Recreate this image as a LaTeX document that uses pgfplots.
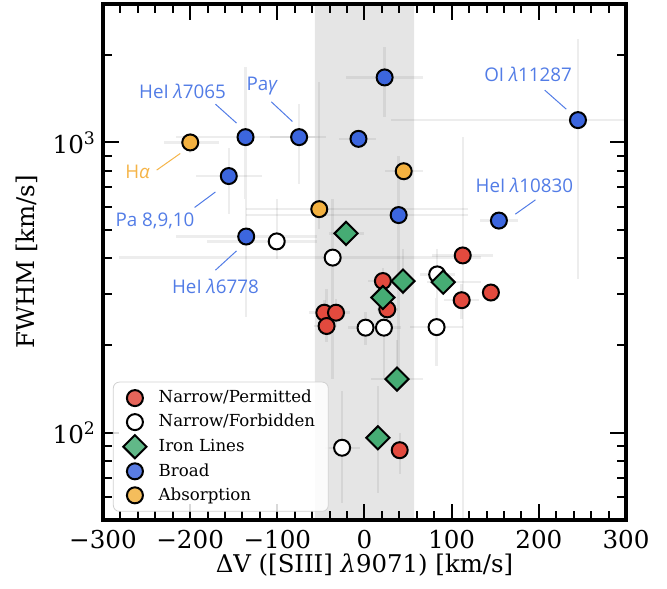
\documentclass[border=0pt]{standalone}
\usepackage{fontspec}
\setmainfont{DejaVu Serif}
\newfontfamily\annfont{Open Sans}
\usepackage{pgfplots}
\usepackage{pgfplotstable}
\pgfplotsset{compat=1.18}

\definecolor{cred}{RGB}{226,74,62}
\definecolor{cblue}{RGB}{60,102,222}
\definecolor{corange}{RGB}{243,177,64}
\definecolor{cgreen}{RGB}{70,172,116}
\definecolor{tblue}{RGB}{82,124,230}
\definecolor{torange}{RGB}{245,180,72}

% columns: dv fwhm, then errors (x minus, x plus, y minus, y plus)
\pgfplotstableread{
x y xm xp ym yp
-46.1 259 18 14 30 28
-32.7 259 14 16 25 30
-43.5 233 15 12 28 80
21.1 333 17 17 35 35
26.1 266 12 12 25 30
111.5 286 20 20 40 40
112.7 408 35 35 368 640
145.0 304 10 10 20 20
40.4 87 8 8 15 13
}\narrowperm

\pgfplotstableread{
x y xm xp ym yp
-100.7 456 80 46 60 182
-36.5 401 245 170 248 237
1.2 230 20 20 30 30
22.3 230 20 20 77 30
82.7 231 31 30 61 59
83.4 351 20 20 60 80
-25.7 88.7 20 20 31.7 50
}\narrowforb

\pgfplotstableread{
x y xm xp ym yp
-21.1 486 20 20 50 50
44.2 333 15 15 36 95
90.3 330 19 43 30 30
21.1 292 15 15 30 30
37.3 153 30 30 13 56
15.4 96 15 15 34 49
}\ironlines

\pgfplotstableread{
x y xm xp ym yp
-155.7 766 38 38 200 194
-136.5 1043 80 80 405 772
-75.0 1043 33 31 325 312
-6.9 1029 22 20 40 40
23.1 1675 44 44 456 450
244.9 1194 215 80 856 1071
39.2 562 175 80 412 336
154.2 538 22 22 30 30
-135.7 474 81 81 224 164
}\broad

\pgfplotstableread{
x y xm xp ym yp
-199.9 1000 30 33 80 80
-51.9 589 84 171 87 1021
45.0 796 22 22 60 60
}\absorp

\begin{document}
\begin{tikzpicture}
\begin{axis}[
  scale only axis, width=261.5pt, height=258pt,
  xmin=-300, xmax=300, ymode=log, ymin=50, ymax=3000,
  xtick={-300,-200,...,300},
  xticklabels={−300,−200,−100,0,100,200,300},
  minor xtick={-280,-260,...,280},
  ytick={100,1000}, yticklabels={10\textsuperscript{2},10\textsuperscript{3}},
  minor ytick={60,70,80,90,200,300,400,500,600,700,800,900,2000},
  tick align=inside, major tick length=8pt, minor tick length=4.5pt,
  every tick/.style={black, line width=1pt},
  axis line style={line width=2pt},
  tick label style={font=\fontsize{12.3}{13}\selectfont},
  xticklabel style={yshift=-1.5pt},
  every axis x label/.style={at={(axis description cs:0.5,0)}, anchor=base,
    yshift=-26.3pt, font=\fontsize{12.2}{13}\selectfont},
  every axis y label/.style={at={(axis description cs:0,0.5)}, rotate=90, anchor=base,
    yshift=34pt, font=\fontsize{12.2}{13}\selectfont},
  xlabel={ΔV ([SIII] \textit{λ}9071) [km/s]},
  ylabel={FWHM [km/s]},
  legend cell align=left,
  legend style={at={(0.019,0.016)}, anchor=south west,
    draw=black!18, rounded corners=3pt, fill=white, fill opacity=0.85, text opacity=1,
    font=\fontsize{8.3}{9.5}\selectfont, row sep=1pt, nodes={inner sep=1.6pt},
    inner xsep=5pt, inner ysep=2.5pt,
    /tikz/every odd column/.append style={column sep=4.5pt}},
  errstyle/.style={draw=none, mark=none, forget plot,
    error bars/.cd, x dir=both, x explicit, y dir=both, y explicit, error mark=none,
    error bar style={draw=black, line width=1.2pt, opacity=0.07}},
]
\addplot[fill=black, fill opacity=0.1, draw=none, forget plot]
  coordinates {(-57,50) (57,50) (57,3000) (-57,3000)} \closedcycle;

\addplot[only marks, mark=*, mark size=4pt, mark options={fill=cred, draw=black, line width=1pt}]
  table[x=x, y=y] {\narrowperm};
\addlegendentry{Narrow/Permitted}
\addplot[only marks, mark=*, mark size=4pt, mark options={fill=white, draw=black, line width=1pt}]
  table[x=x, y=y] {\narrowforb};
\addlegendentry{Narrow/Forbidden}
\addplot[only marks, mark=square*, mark size=4.1pt, mark options={rotate=45, fill=cgreen, draw=black, line width=1pt}]
  table[x=x, y=y] {\ironlines};
\addlegendentry{Iron Lines}
\addplot[only marks, mark=*, mark size=4pt, mark options={fill=cblue, draw=black, line width=1pt}]
  table[x=x, y=y] {\broad};
\addlegendentry{Broad}
\addplot[only marks, mark=*, mark size=4pt, mark options={fill=corange, draw=black, line width=1pt}]
  table[x=x, y=y] {\absorp};
\addlegendentry{Absorption}

\addplot[errstyle] table[x=x, y=y, x error minus=xm, x error plus=xp,
  y error minus=ym, y error plus=yp] {\narrowperm};
\addplot[errstyle] table[x=x, y=y, x error minus=xm, x error plus=xp,
  y error minus=ym, y error plus=yp] {\narrowforb};
\addplot[errstyle] table[x=x, y=y, x error minus=xm, x error plus=xp,
  y error minus=ym, y error plus=yp] {\ironlines};
\addplot[errstyle] table[x=x, y=y, x error minus=xm, x error plus=xp,
  y error minus=ym, y error plus=yp] {\broad};
\addplot[errstyle] table[x=x, y=y, x error minus=xm, x error plus=xp,
  y error minus=ym, y error plus=yp] {\absorp};

\begin{scope}[font=\annfont\fontsize{9.4}{10}\selectfont]
\node[text=tblue] at (axis cs:-208.8,1494) {HeI \textit{λ}7065};
\draw[tblue, line width=0.5pt] (axis cs:-171,1355) -- (axis cs:-146.8,1166);
\node[text=tblue] at (axis cs:-117.3,1567) {Pa\textit{γ}};
\draw[tblue, line width=0.5pt] (axis cs:-106.9,1380) -- (axis cs:-82.7,1181);
\node[text=torange] at (axis cs:-260.3,792) {H\textit{α}};
\draw[torange, line width=0.5pt] (axis cs:-238.4,803) -- (axis cs:-211.4,916);
\node[text=tblue] at (axis cs:-240.3,537) {Pa 8,9,10};
\draw[tblue, line width=0.5pt] (axis cs:-194.9,597) -- (axis cs:-171,675);
\node[text=tblue] at (axis cs:-171,319) {HeI \textit{λ}6778};
\draw[tblue, line width=0.5pt] (axis cs:-171,363) -- (axis cs:-146.8,423);
\node[text=tblue] at (axis cs:187.7,1711) {OI \textit{λ}11287};
\draw[tblue, line width=0.5pt] (axis cs:206.8,1514) -- (axis cs:231.5,1302);
\node[text=tblue] at (axis cs:183.4,709) {HeI \textit{λ}10830};
\draw[tblue, line width=0.5pt] (axis cs:196.1,634) -- (axis cs:173,566);
\end{scope}
\end{axis}
\path (current axis.south west) ++(-51.5pt,-34pt);
\path (current axis.north east) ++(20.5pt,2pt);
\end{tikzpicture}
\end{document}
